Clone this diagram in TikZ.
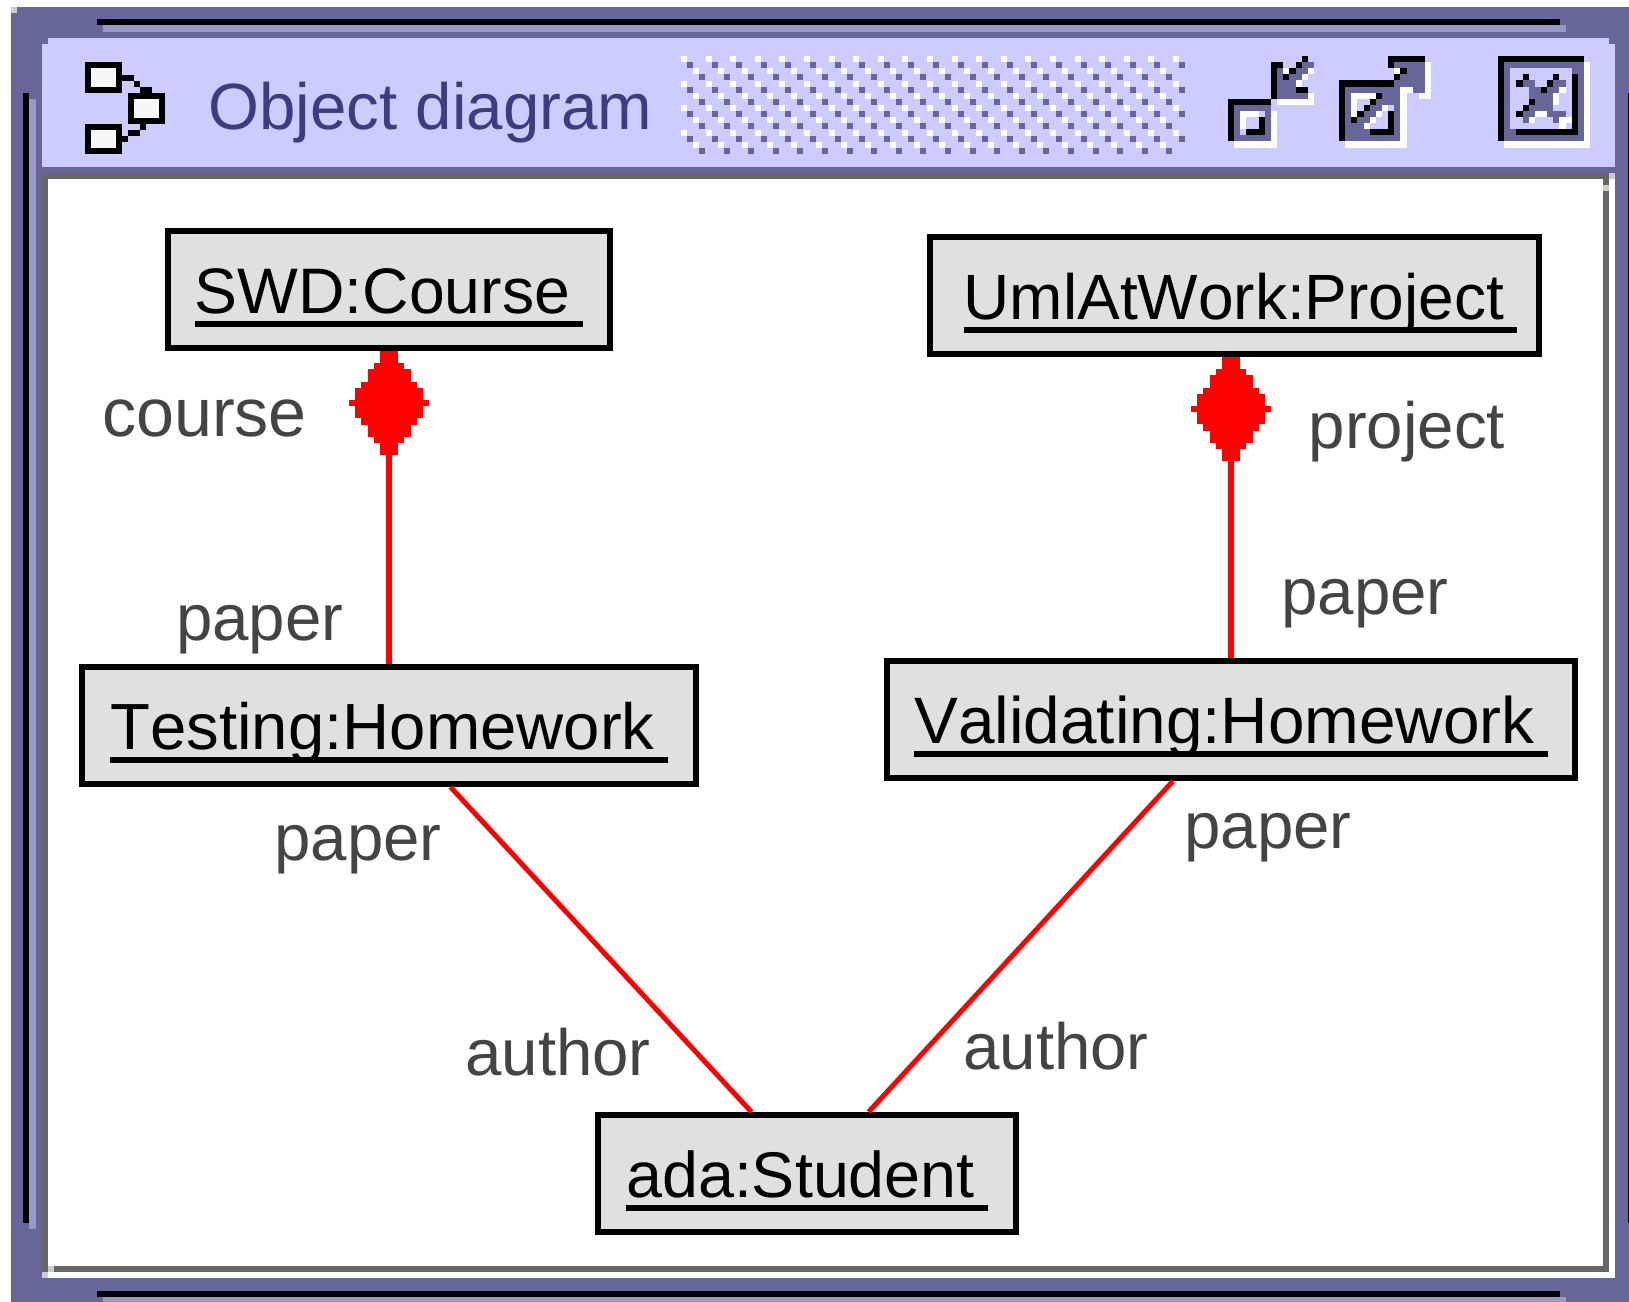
\documentclass[tikz,border=0pt]{standalone}
\usepackage{fontspec}
\setmainfont[Kerning=Off]{Liberation Sans}
\definecolor{frameblue}{HTML}{666699}
\definecolor{framelilac}{HTML}{9999CC}
\definecolor{titlebar}{HTML}{CCCCFF}
\definecolor{framegrey}{HTML}{666666}
\definecolor{framelight}{HTML}{CCCCCC}
\definecolor{objfill}{HTML}{E0E0E0}
\definecolor{iconfill}{HTML}{F8F8F8}
\definecolor{rolegrey}{HTML}{444444}
\definecolor{titleink}{HTML}{3C3C7E}
\def\objname#1{\setbox0\hbox{#1\kern3.7pt}\rlap{\rule[-3.7pt]{\wd0}{1.7pt}}\box0}
\def\cells#1#2{\foreach \ax/\ay/\bx/\by in {#2} \fill[#1] (\ax,\ay) rectangle (\bx,\by);}
\def\bluntdiamond#1{\begin{scope}[shift={(#1)}]
	\foreach \hw/\ya/\yb in {9/0/12, 15/12/18, 21.5/18/31, 28/31/37, 34/37/49, 40/49/55, 34/55/67, 28/67/74, 21.5/74/86, 15/86/92, 9/92/104} \fill[red] (-\hw,\ya) rectangle (\hw,\yb);
\end{scope}}
\tikzset{
	object/.style={draw=black, fill=objfill, line width=0.06cm, inner sep=0pt, minimum height=1.17cm, text height=0.52cm, text depth=0.04cm, font=\fontsize{#1}{22pt}\selectfont},
	role/.style={anchor=base, inner sep=0pt, text=rolegrey, font=\fontsize{18.6pt}{22pt}\selectfont},
	assoc/.style={red, line width=0.06cm},
	link/.style={red, line width=0.05cm},
	iconbox/.style={draw=black, fill=iconfill, line width=0.06cm},
	cellgrid/.style={x=0.0614cm, y=-0.061cm}
}

\begin{document}
\begin{tikzpicture}[x=0.01cm, y=-0.01cm]
		%%%%% START %%%%%
		\useasboundingbox (0, 0) rectangle (1629, 1302);
		
		\fill[frameblue] (11, 7) rectangle (1629, 1302);
		\fill[framelight] (11, 7) rectangle (17, 13);
		
		\fill[black] (97, 19) rectangle (1560, 25);
		\fill[framelilac] (103, 25) rectangle (1566, 32);
		\fill[black] (97, 1291) rectangle (1560, 1297);
		\fill[framelilac] (103, 1297) rectangle (1566, 1302);
		\fill[black] (23, 93) rectangle (29, 1223);
		\fill[framelilac] (29, 99) rectangle (36, 1229);
		\fill[black] (1628, 93) rectangle (1629, 1223);
		
		\fill[titlebar] (48, 38) rectangle (1609, 44);
		\fill[titlebar] (42, 44) rectangle (1615, 167);
		
		\fill[white] (1609, 173) rectangle (1615, 1278);
		\fill[white] (42, 1272) rectangle (1615, 1278);
		\fill[framegrey] (42, 173) rectangle (1609, 1272);
		\fill[white] (48, 179) rectangle (1603, 1266);
		\fill[framelight] (1609, 173) rectangle (1615, 179);
		\fill[framelight] (1603, 185) rectangle (1609, 191);
		\fill[framelight] (42, 1272) rectangle (48, 1278);
		\fill[framelight] (48, 1266) rectangle (54, 1272);
		
		% title bar
		\draw[iconbox] (88, 65) rectangle (119, 90);
		\draw[iconbox] (131, 96) rectangle (162, 121);
		\draw[iconbox] (88, 127) rectangle (119, 151);
		\fill[black] (122, 75) rectangle (134, 81);
		\fill[black] (134, 81) rectangle (140, 87);
		\fill[black] (140, 87) rectangle (152, 93);
		\fill[black] (140, 124) rectangle (146, 130);
		\fill[black] (128, 130) rectangle (140, 136);
		\fill[black] (122, 136) rectangle (128, 142);
		
		\node[anchor=base west, inner sep=0pt, text=titleink, font=\fontsize{18.6pt}{22pt}\selectfont] (wintitle) at (208, 129) {Object diagram};
		
		\foreach \col in {0,...,20} {
			\foreach \row in {0,...,3} {
				\fill[white] (681+24.6*\col, 56+24.6*\row) rectangle +(6, 6);
				\fill[frameblue] (687+24.6*\col, 62+24.6*\row) rectangle +(6, 6);
			}
		}
		\foreach \col in {0,...,19} {
			\foreach \row in {0,...,3} {
				\fill[white] (693+24.6*\col, 68+24.6*\row) rectangle +(6, 6);
				\fill[frameblue] (699+24.6*\col, 74+24.6*\row) rectangle +(6, 6);
			}
		}
		
		\begin{scope}[shift={(1228, 56)}, cellgrid]
			\cells{white}{1/14/8/15, 7/9/8/14, 8/7/14/8, 13/6/14/7}
			\cells{frameblue}{1/8/7/14, 8/2/11/7, 11/6/13/7, 11/2/13/3, 10/3/12/4, 12/1/14/2}
			\cells{titlebar}{2/9/6/13}
			\cells{white}{2/9/5/10, 2/10/3/12, 9/2/10/3, 13/2/14/3, 12/3/13/4, 11/4/12/5}
			\cells{black}{0/7/7/8, 0/8/1/14, 7/1/8/7, 8/1/9/2, 12/0/13/1, 11/1/12/2, 10/2/11/3, 9/3/10/4, 3/12/6/13, 5/10/6/12, 11/5/13/6}
		\end{scope}
		
		\begin{scope}[shift={(1339, 56)}, cellgrid]
			\cells{white}{1/14/11/15, 10/5/11/14, 11/4/12/6, 14/1/15/7, 13/6/14/7}
			\cells{frameblue}{1/5/10/14, 9/1/14/2, 11/2/14/5, 12/5/14/6, 10/3/11/5, 9/4/10/5}
			\cells{titlebar}{3/7/5/8, 3/8/4/9, 8/8/9/9, 7/9/8/10, 6/10/8/11, 5/11/8/12}
			\cells{white}{2/6/6/7, 2/7/3/10, 7/8/8/9, 6/9/7/10, 5/10/6/11, 4/11/5/12, 9/2/10/3}
			\cells{black}{0/4/9/5, 0/5/1/14, 8/0/14/1, 8/1/9/2, 10/2/11/3, 9/3/10/4, 5/12/9/13, 8/9/9/13, 6/6/7/7, 5/7/6/8, 4/8/5/9, 3/9/4/10, 2/10/3/11}
		\end{scope}
		
		\begin{scope}[shift={(1498, 56)}, cellgrid]
			\cells{white}{1/14/15/15, 14/1/15/15}
			\cells{frameblue}{1/1/14/14}
			\cells{titlebar}{2/2/12/12}
			\cells{frameblue}{4/4/6/5, 9/4/11/5, 5/5/7/6, 8/5/10/6, 5/6/9/7, 6/7/9/8, 5/8/9/9, 4/9/6/10, 8/9/11/10, 4/10/5/11, 9/10/10/11}
			\cells{white}{10/5/11/6, 9/6/10/8, 6/9/8/10, 5/10/6/11, 10/10/12/11, 10/11/11/12}
			\cells{black}{0/0/14/1, 0/1/1/14, 12/3/13/13, 3/12/13/13, 4/3/5/4, 9/3/10/4, 3/4/4/5, 8/4/9/5, 7/5/8/6, 5/7/6/8, 4/8/5/9, 3/9/4/10}
		\end{scope}
		
		% objects
		\node[object=18.29pt, minimum width=4.42cm] (swd) at (389, 289.5) {\objname{SWD:Course}};
		\node[object=18.2pt, minimum width=6.09cm] (umlatwork) at (1234.4, 295.5) {\kern3.4pt\objname{UmlAtWork:Project}};
		\node[object=18.56pt, minimum width=6.13cm] (testing) at (389, 725.5) {\objname{Testing:Homework}};
		\node[object=18.67pt, minimum width=6.88cm] (validating) at (1231, 719.5) {\objname{Validating:Homework}};
		\node[object=18.37pt, minimum width=4.18cm] (ada) at (807, 1173.5) {\objname{ada:Student}};
		
		\draw[assoc] (swd.south) -- (testing.north);
		\draw[assoc] (validating.north |- umlatwork.south) -- (validating.north);
		\bluntdiamond{swd.south}
		\bluntdiamond{validating.north |- umlatwork.south}
		\draw[link] ([xshift=0.615cm]testing.south) -- ([xshift=-0.555cm]ada.north);
		\draw[link] ([xshift=-0.58cm]validating.south) -- ([xshift=0.615cm]ada.north);
		
		\node[role, font=\fontsize{19.4pt}{22pt}\selectfont] (courserole) at (204.5, 436.7) {course};
		\node[role] (projectrole) at (1406.8, 448.7) {project};
		\node[role] (paperone) at (259.9, 640) {paper};
		\node[role] (papertwo) at (1365, 614.7) {paper};
		\node[role] (paperthree) at (358, 860.7) {paper};
		\node[role] (paperfour) at (1268, 848.3) {paper};
		\node[role] (authorone) at (558, 1075.7) {author};
		\node[role] (authortwo) at (1056, 1069) {author};
		
		%%%%% END %%%%%
	\end{tikzpicture}
\end{document}
